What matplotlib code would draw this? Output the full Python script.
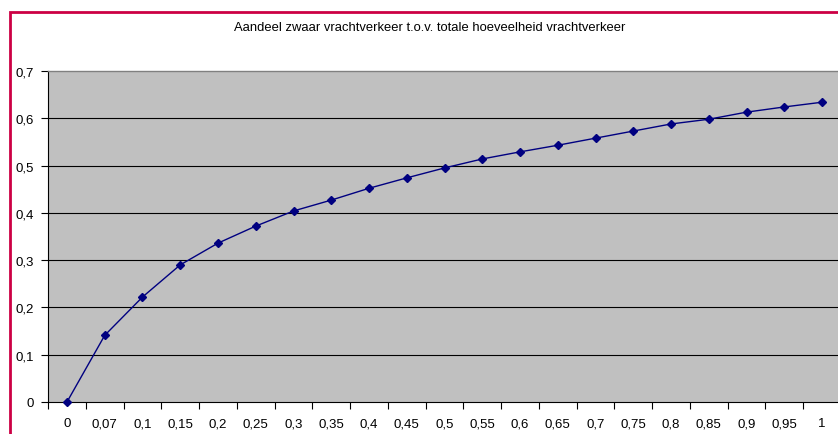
import matplotlib.pyplot as plt
import numpy as np
from matplotlib.patches import Rectangle

plt.rcParams['font.family'] = ['Liberation Sans', 'DejaVu Sans']

categories = ["0", "0,07", "0,1", "0,15", "0,2", "0,25", "0,3", "0,35", "0,4", "0,45", "0,5",
              "0,55", "0,6", "0,65", "0,7", "0,75", "0,8", "0,85", "0,9", "0,95", "1"]
aandeel = [0.0, 0.141, 0.222, 0.290, 0.336, 0.372, 0.404, 0.427, 0.452, 0.474, 0.495,
           0.514, 0.529, 0.543, 0.558, 0.573, 0.588, 0.598, 0.613, 0.624, 0.634]
y_ticks = [0, 0.1, 0.2, 0.3, 0.4, 0.5, 0.6, 0.7]
y_labels = ["0", "0,1", "0,2", "0,3", "0,4", "0,5", "0,6", "0,7"]

W, H = 838, 435
fig = plt.figure(figsize=(W / 100, H / 100), dpi=100)

# red chart border (cropped on right and bottom)
fig.patches.append(Rectangle((10 / W, -0.1), 1.2, (H - 13) / H + 0.1, transform=fig.transFigure,
                             fill=False, edgecolor='#cc0044', linewidth=2))

ax = fig.add_axes([48.1 / W, 1 - 403 / H, (841 - 48.1) / W, (403 - 72) / H])
ax.set_facecolor('#c0c0c0')

x = np.arange(len(categories))
ax.plot(x, aandeel, color='#000080', linewidth=1, marker='D', markersize=4.5, clip_on=False, zorder=3)

ax.set_xlim(-0.5, len(categories) - 0.5)
ax.set_ylim(0, 0.7)

ax.set_yticks(y_ticks)
ax.set_yticklabels(y_labels, fontsize=9.5)
for yv in y_ticks[1:-1]:
    ax.axhline(yv, color='black', linewidth=0.8, zorder=1)

ax.set_xticks(np.arange(len(categories) + 1) - 0.5)
ax.set_xticklabels([])
ax.set_xticks(x, minor=True)
ax.set_xticklabels(categories, minor=True, fontsize=9.5)
ax.tick_params(axis='x', which='minor', length=0, pad=11)
ax.tick_params(axis='x', which='major', length=5, direction='out', color='black')
ax.tick_params(axis='y', length=5, direction='out', pad=5)

for s in ['top', 'right']:
    ax.spines[s].set_color('#808080')
    ax.spines[s].set_linewidth(1)
ax.spines['left'].set_color('black')
ax.spines['bottom'].set_color('black')

fig.text(430 / W, 1 - 28 / H, "Aandeel zwaar vrachtverkeer t.o.v. totale hoeveelheid vrachtverkeer",
         ha='center', va='center', fontsize=9.4)

fig.savefig('out.png', dpi=100)
